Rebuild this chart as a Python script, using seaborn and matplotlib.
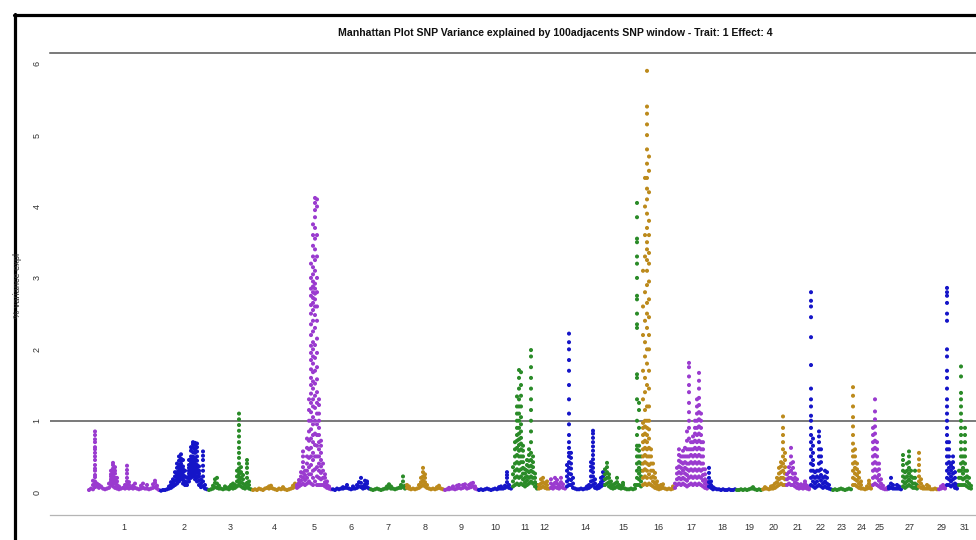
import matplotlib
matplotlib.use("Agg")
import matplotlib.pyplot as plt
from matplotlib.lines import Line2D
import seaborn as sns
import pandas as pd

# ---------------- data ----------------
title = "Manhattan Plot SNP Variance explained by 100adjacents SNP window - Trait: 1 Effect: 4"
ylabel = "% variance expl"
chromosomes = list(range(1, 32))
# relative chromosome lengths (genome units)
chrom_len = [72, 48, 44, 44, 36, 38, 36, 38, 34, 34, 26, 12, 16, 38, 38, 32,
             34, 28, 26, 24, 24, 22, 20, 20, 16, 14, 16, 20, 8, 12, 14]
genome_start = 88
shown_labels = ["1", "2", "3", "4", "5", "6", "7", "8", "9", "10", "11", "12", "",
                "14", "15", "16", "17", "18", "19", "20", "21", "22", "23", "24",
                "25", "", "27", "", "29", "", "31"]
threshold = 1.0
yticks = [0, 1, 2, 3, 4, 5, 6]

# SNP-window values per chromosome, in genome order (a list = several windows at one locus)
chr1 = [0.03, 0.05, [0.04, 0.1, 0.16],
        [0.07, 0.12, 0.15, 0.21, 0.24, 0.3, 0.33, 0.38, 0.45, 0.5, 0.55, 0.6, 0.63, 0.7, 0.74, 0.8, 0.85],
        [0.08, 0.12], [0.06, 0.1], 0.08, 0.05, 0.04, 0.05, [0.06, 0.12],
        [0.1, 0.15, 0.18, 0.22, 0.25, 0.3], [0.08, 0.12, 0.15, 0.2, 0.24, 0.27, 0.31, 0.33, 0.38, 0.41],
        [0.06, 0.12, 0.17, 0.2, 0.26, 0.3, 0.35], [0.05, 0.1, 0.15, 0.2], [0.04, 0.08], 0.05, 0.06,
        [0.05, 0.1], [0.06, 0.1, 0.15, 0.2, 0.26, 0.31, 0.37], [0.05, 0.1, 0.14], 0.06, [0.05, 0.09],
        [0.06, 0.12], 0.05, 0.04, [0.05, 0.09], [0.06, 0.12], 0.05, [0.05, 0.1], 0.04, 0.05,
        [0.06, 0.11], [0.07, 0.13, 0.16], [0.05, 0.09], 0.03]
chr2 = [0.02, 0.03, 0.03, 0.04, [0.05, 0.08], [0.06, 0.1, 0.14], [0.08, 0.13, 0.18],
        [0.1, 0.16, 0.22, 0.28], [0.12, 0.17, 0.2, 0.25, 0.28, 0.34, 0.4],
        [0.15, 0.19, 0.22, 0.27, 0.3, 0.35, 0.38, 0.44, 0.5],
        [0.18, 0.22, 0.25, 0.29, 0.33, 0.37, 0.4, 0.44, 0.47, 0.53],
        [0.12, 0.17, 0.2, 0.24, 0.28, 0.32, 0.36, 0.45], [0.1, 0.15, 0.22, 0.3], [0.1, 0.14, 0.2],
        [0.15, 0.19, 0.22, 0.26, 0.3, 0.34, 0.38, 0.45],
        [0.2, 0.24, 0.28, 0.31, 0.35, 0.39, 0.42, 0.46, 0.5, 0.58, 0.63],
        [0.22, 0.26, 0.3, 0.33, 0.36, 0.4, 0.43, 0.47, 0.5, 0.56, 0.62, 0.67, 0.7],
        [0.18, 0.22, 0.26, 0.3, 0.33, 0.37, 0.4, 0.44, 0.47, 0.55, 0.6, 0.66, 0.69],
        [0.15, 0.2, 0.22, 0.27, 0.3, 0.34, 0.38, 0.44, 0.5, 0.57, 0.63, 0.68],
        [0.1, 0.16, 0.22, 0.26, 0.3, 0.36], [0.07, 0.12, 0.18],
        [0.08, 0.15, 0.22, 0.3, 0.37, 0.45, 0.51, 0.57], [0.05, 0.1], 0.04]
chr3 = [0.03, 0.04, [0.05, 0.09], [0.07, 0.13, 0.18], [0.06, 0.12, 0.2], [0.05, 0.09], 0.05, 0.04,
        [0.05, 0.08], 0.05, [0.04, 0.07], [0.06, 0.1], [0.05, 0.09, 0.12], [0.06, 0.1],
        [0.08, 0.15, 0.22, 0.3],
        [0.1, 0.14, 0.17, 0.21, 0.25, 0.29, 0.33, 0.4, 0.48, 0.55, 0.62, 0.7, 0.78, 0.86, 0.94, 1.02, 1.1],
        [0.08, 0.14, 0.2, 0.28, 0.35], [0.06, 0.12, 0.18, 0.24], [0.05, 0.1],
        [0.07, 0.13, 0.2, 0.27, 0.34, 0.4, 0.45], [0.05, 0.1, 0.15], 0.04]
chr4 = [0.03, 0.04, 0.03, 0.05, 0.04, 0.03, 0.05, 0.06, [0.05, 0.08], [0.06, 0.09], 0.05, 0.04,
        0.03, 0.05, 0.04, [0.05, 0.07], 0.04, 0.03, 0.04, 0.05, [0.06, 0.09], [0.08, 0.12]]
chr5 = [[0.06, 0.1], [0.08, 0.13, 0.17], [0.1, 0.16, 0.22, 0.28],
        [0.12, 0.2, 0.27, 0.35, 0.42, 0.5, 0.57], [0.1, 0.17, 0.24, 0.3],
        [0.12, 0.2, 0.3, 0.4, 0.5, 0.62, 0.75],
        [0.15, 0.25, 0.35, 0.48, 0.6, 0.72, 0.85, 1.0, 1.15, 1.3],
        [0.12, 0.25, 0.38, 0.5, 0.62, 0.75, 0.88, 1.0, 1.12, 1.25, 1.38, 1.5, 1.6, 1.72, 1.85, 1.95,
         2.05, 2.2, 2.35, 2.5, 2.62, 2.75, 2.85, 3.0, 3.2],
        [0.1, 0.2, 0.3, 0.45, 0.55, 0.7, 0.8, 0.95, 1.05, 1.2, 1.3, 1.45, 1.55, 1.68, 1.8, 1.9, 2.0,
         2.1, 2.25, 2.4, 2.55, 2.65, 2.72, 2.8, 2.88, 2.95, 3.05, 3.15, 3.3, 3.45, 3.6, 3.75],
        [0.15, 0.32, 0.5, 0.66, 0.82, 1.0, 1.18, 1.35, 1.52, 1.7, 1.88, 2.06, 2.3, 2.48, 2.6, 2.7,
         2.78, 2.85, 2.92, 3.1, 3.25, 3.4, 3.55, 3.7, 3.85, 3.95, 4.05, 4.12],
        [0.1, 0.22, 0.35, 0.5, 0.65, 0.8, 0.95, 1.1, 1.25, 1.4, 1.58, 1.75, 1.95, 2.15, 2.4, 2.6,
         2.8, 3.0, 3.3, 3.6, 4.0, 4.1],
        [0.1, 0.2, 0.3, 0.4, 0.5, 0.6, 0.7, 0.8, 0.9, 1.0, 1.1, 1.22, 1.3],
        [0.1, 0.18, 0.27, 0.36, 0.45, 0.55, 0.65, 0.72], [0.1, 0.2, 0.3, 0.4],
        [0.08, 0.14, 0.2, 0.25], [0.06, 0.1, 0.15], [0.05, 0.08], 0.04]
chr6 = [0.04, 0.03, 0.05, 0.04, 0.05, [0.05, 0.07], 0.06, [0.06, 0.1], 0.05, 0.04, [0.05, 0.08],
        0.05, [0.06, 0.1], [0.08, 0.14], [0.07, 0.13, 0.2], [0.05, 0.08], [0.06, 0.11, 0.16],
        [0.07, 0.12, 0.15], 0.05]
chr7 = [0.04, 0.03, 0.04, 0.05, 0.04, 0.03, 0.04, 0.05, [0.05, 0.08], [0.07, 0.11], [0.05, 0.08],
        0.05, 0.04, 0.05, 0.06, [0.06, 0.1], [0.08, 0.15, 0.22], [0.05, 0.09]]
chr8 = [[0.06, 0.1], [0.05, 0.08], 0.04, 0.05, 0.04, 0.05, [0.06, 0.1], [0.08, 0.14, 0.2],
        [0.1, 0.16, 0.22, 0.28, 0.34], [0.08, 0.14, 0.2, 0.25], [0.06, 0.1], 0.05, 0.04, 0.05,
        0.04, [0.05, 0.07], [0.06, 0.09], 0.05, 0.04]
chr9 = [0.03, 0.04, [0.04, 0.06], 0.05, [0.05, 0.08], 0.04, [0.05, 0.09], [0.06, 0.1], 0.05,
        [0.06, 0.1], [0.07, 0.11], 0.05, [0.06, 0.1], [0.07, 0.12], [0.08, 0.13], [0.05, 0.08], 0.04]
chr10 = [0.03, 0.04, 0.03, 0.04, 0.05, 0.04, 0.03, 0.04, 0.05, 0.04, [0.05, 0.07], [0.05, 0.08],
         0.05, [0.06, 0.09], [0.08, 0.14, 0.2, 0.24, 0.28], [0.06, 0.1], 0.05]
chr11 = [[0.08, 0.15, 0.25, 0.35], [0.1, 0.2, 0.3, 0.4, 0.5, 0.6, 0.7],
         [0.12, 0.22, 0.32, 0.42, 0.52, 0.62, 0.72, 0.8, 0.9, 1.0, 1.1, 1.2, 1.34],
         [0.1, 0.2, 0.3, 0.4, 0.5, 0.58, 0.66, 0.74, 0.82, 0.9, 1.0, 1.1, 1.2, 1.3, 1.45, 1.6, 1.71],
         [0.12, 0.22, 0.32, 0.42, 0.5, 0.6, 0.68, 0.76, 0.85, 0.95, 1.05, 1.2, 1.35, 1.5, 1.68],
         [0.1, 0.18, 0.26, 0.34, 0.42, 0.5, 0.58, 0.65], [0.08, 0.14, 0.2, 0.26, 0.32],
         [0.1, 0.16, 0.22, 0.3, 0.38, 0.45], [0.12, 0.2, 0.28, 0.36, 0.44, 0.52, 0.6],
         [0.15, 0.22, 0.3, 0.37, 0.45, 0.55, 0.7, 0.85, 1.0, 1.15, 1.3, 1.45, 1.6, 1.75, 1.9, 1.99],
         [0.12, 0.2, 0.28, 0.35, 0.42, 0.5], [0.08, 0.14, 0.2, 0.26], [0.05, 0.1]]
chr12 = [[0.05, 0.1], [0.06, 0.12, 0.18], [0.08, 0.14, 0.2], [0.06, 0.12], [0.05, 0.1, 0.15], 0.05]
chr13 = [[0.06, 0.12, 0.18], [0.05, 0.1], [0.07, 0.13, 0.2], [0.06, 0.12, 0.17], [0.05, 0.1],
         [0.07, 0.14, 0.2], [0.06, 0.11], 0.05]
chr14 = [[0.08, 0.15, 0.22, 0.3, 0.38],
         [0.1, 0.18, 0.26, 0.34, 0.42, 0.5, 0.55, 0.62, 0.7, 0.8, 0.95, 1.1, 1.3, 1.5, 1.7, 1.85, 2.0,
          2.1, 2.22],
         [0.1, 0.17, 0.25, 0.33, 0.4, 0.48, 0.55], [0.06, 0.12, 0.2], 0.05, 0.04, 0.04, 0.05, 0.04,
         0.05, [0.05, 0.08], [0.06, 0.1], [0.08, 0.15, 0.22, 0.3, 0.36, 0.42],
         [0.1, 0.16, 0.22, 0.28, 0.34, 0.4, 0.46, 0.52, 0.58, 0.64, 0.7, 0.76, 0.82, 0.86],
         [0.06, 0.12, 0.18], [0.05, 0.08], [0.06, 0.1], [0.08, 0.14, 0.2], [0.1, 0.16, 0.22, 0.28]]
chr15 = [[0.1, 0.18, 0.25, 0.32], [0.12, 0.2, 0.28, 0.35, 0.41], [0.08, 0.14, 0.2, 0.25],
         [0.06, 0.1, 0.15], [0.05, 0.1], [0.06, 0.12], [0.08, 0.14, 0.2], [0.06, 0.1], [0.05, 0.08],
         [0.06, 0.1, 0.13], 0.05, 0.04, 0.04, 0.05, 0.04, [0.05, 0.1],
         [0.1, 0.2, 0.3, 0.4, 0.5, 0.6, 0.65, 0.8, 1.0, 1.3, 1.6, 1.65, 2.3, 2.35, 2.5, 2.7, 2.75,
          3.0, 3.2, 3.3, 3.5, 3.55, 3.85, 4.05],
         [0.1, 0.18, 0.26, 0.34, 0.42, 0.5, 0.58, 0.65, 0.9, 1.15, 1.25],
         [0.08, 0.15, 0.22, 0.3, 0.4, 0.5]]
chr16 = [[0.1, 0.2, 0.3, 0.4, 0.5, 0.6, 0.7, 0.8, 0.9, 0.97, 1.3, 1.7, 2.2, 2.6, 3.1],
         [0.12, 0.22, 0.32, 0.42, 0.52, 0.62, 0.72, 0.82, 0.92, 1.0, 1.15, 1.4, 1.6, 1.9, 2.1, 2.4,
          2.8, 3.3, 3.6, 4.0, 4.4],
         [0.1, 0.2, 0.3, 0.4, 0.5, 0.6, 0.7, 0.8, 0.9, 1.0, 1.2, 1.5, 1.8, 2.0, 2.3, 2.5, 2.65, 2.9,
          3.1, 3.25, 3.4, 3.5, 3.7, 3.9, 4.1, 4.25, 4.4, 4.6, 4.8, 5.0, 5.15, 5.3, 5.4, 5.9],
         [0.12, 0.25, 0.38, 0.5, 0.62, 0.75, 0.88, 1.0, 1.2, 1.45, 1.7, 2.0, 2.2, 2.45, 2.7, 2.95,
          3.2, 3.35, 3.6, 3.8, 4.2, 4.5, 4.7],
         [0.1, 0.2, 0.3, 0.4, 0.5, 0.6], [0.08, 0.15, 0.22, 0.3, 0.4], [0.06, 0.12, 0.2, 0.27],
         [0.05, 0.1, 0.15], [0.04, 0.08], [0.05, 0.1], [0.06, 0.11], 0.05, 0.04, 0.05, 0.04,
         [0.05, 0.08]]
chr17 = [[0.06, 0.12], [0.1, 0.18, 0.26, 0.34], [0.12, 0.2, 0.28, 0.36, 0.44, 0.52, 0.6],
         [0.1, 0.18, 0.26, 0.34, 0.42, 0.5], [0.12, 0.2, 0.3, 0.4, 0.5, 0.58],
         [0.1, 0.18, 0.26, 0.34, 0.42, 0.5, 0.62], [0.08, 0.16, 0.24, 0.32, 0.4, 0.5, 0.6, 0.72, 0.85],
         [0.1, 0.2, 0.3, 0.4, 0.5, 0.6, 0.75, 0.9, 1.0, 1.12, 1.25, 1.4, 1.5, 1.62, 1.75, 1.81],
         [0.12, 0.22, 0.32, 0.42, 0.52, 0.6, 0.7], [0.1, 0.2, 0.3, 0.4, 0.5, 0.6, 0.7, 0.78],
         [0.12, 0.22, 0.32, 0.42, 0.52, 0.62, 0.72, 0.82, 0.9, 1.0],
         [0.1, 0.2, 0.3, 0.4, 0.5, 0.6, 0.7, 0.8, 0.9, 1.0, 1.1, 1.2, 1.3],
         [0.12, 0.22, 0.32, 0.42, 0.52, 0.62, 0.72, 0.82, 0.92, 1.02, 1.12, 1.22, 1.32, 1.45, 1.56, 1.67],
         [0.1, 0.2, 0.3, 0.4, 0.5, 0.6, 0.7, 0.8, 0.9, 1.0, 1.1],
         [0.08, 0.16, 0.24, 0.32, 0.4, 0.5, 0.6, 0.7], [0.06, 0.12, 0.18, 0.25, 0.32], [0.05, 0.1, 0.15]]
chr18 = [[0.08, 0.14, 0.2, 0.27, 0.34], [0.06, 0.1, 0.15], [0.04, 0.07], 0.05, 0.04, 0.04, 0.03,
         0.04, 0.03, 0.03, 0.04, 0.03, 0.03, 0.04]
chr19 = [0.03, 0.03, 0.04, 0.03, 0.04, 0.03, 0.04, 0.05, [0.05, 0.07], 0.04, 0.03, 0.04, 0.03]
chr20 = [0.04, [0.05, 0.07], 0.05, 0.04, [0.05, 0.08], [0.05, 0.09], [0.06, 0.12], [0.08, 0.14, 0.2],
         [0.1, 0.18, 0.26, 0.34], [0.12, 0.2, 0.28, 0.36, 0.42],
         [0.1, 0.2, 0.3, 0.4, 0.5, 0.6, 0.7, 0.8, 0.9, 1.06], [0.1, 0.18, 0.26, 0.35, 0.45, 0.55]]
chr21 = [[0.1, 0.18, 0.25], [0.12, 0.2, 0.28, 0.35], [0.1, 0.2, 0.3, 0.4, 0.5, 0.62],
         [0.1, 0.18, 0.26, 0.34, 0.42], [0.08, 0.14, 0.2, 0.26], [0.06, 0.12, 0.18], [0.05, 0.1],
         [0.06, 0.11], [0.05, 0.09], [0.06, 0.12, 0.15], [0.05, 0.09], [0.04, 0.07]]
chr22 = [[0.1, 0.2, 0.3, 0.4, 0.5, 0.6, 0.7, 0.8, 0.9, 1.0, 1.07, 1.2, 1.3, 1.45, 1.78, 2.17, 2.45,
          2.6, 2.68, 2.8],
         [0.08, 0.15, 0.22, 0.3, 0.38, 0.45, 0.55, 0.65, 0.75], [0.06, 0.12, 0.2, 0.28],
         [0.08, 0.15, 0.22, 0.3], [0.1, 0.2, 0.3, 0.4, 0.5, 0.6, 0.7, 0.78, 0.85],
         [0.08, 0.16, 0.24, 0.32, 0.42, 0.5, 0.6], [0.06, 0.12, 0.2], [0.08, 0.15, 0.22, 0.3],
         [0.06, 0.12, 0.2, 0.28], [0.05, 0.1], 0.04]
chr23 = [0.03, 0.04, 0.03, 0.04, 0.05, 0.04, 0.03, 0.04, 0.05, 0.04]
chr24 = [[0.1, 0.2, 0.3, 0.4, 0.5, 0.58, 0.68, 0.8, 0.92, 1.05, 1.2, 1.35, 1.47],
         [0.1, 0.18, 0.26, 0.34, 0.42, 0.5, 0.6], [0.08, 0.16, 0.24, 0.32, 0.4],
         [0.06, 0.12, 0.2, 0.28], [0.05, 0.1, 0.15], 0.05, 0.04, [0.05, 0.08], [0.06, 0.12, 0.16],
         [0.05, 0.09]]
chr25 = [[0.1, 0.2, 0.3, 0.4, 0.5, 0.6, 0.7, 0.8, 0.9],
         [0.12, 0.22, 0.32, 0.42, 0.52, 0.62, 0.72, 0.82, 0.92, 1.02, 1.13, 1.3],
         [0.1, 0.2, 0.3, 0.4, 0.5, 0.6, 0.7], [0.08, 0.16, 0.24, 0.32, 0.4], [0.06, 0.12, 0.18],
         [0.05, 0.09], 0.04, [0.04, 0.06]]
chr26 = [[0.05, 0.08], [0.06, 0.12, 0.2], [0.05, 0.1], 0.05, [0.05, 0.1], [0.05, 0.08], 0.04]
chr27 = [[0.08, 0.15, 0.22, 0.3, 0.38, 0.45, 0.52], [0.06, 0.12, 0.2, 0.28],
         [0.08, 0.15, 0.22, 0.3, 0.4], [0.1, 0.18, 0.26, 0.34, 0.42, 0.5, 0.57],
         [0.08, 0.15, 0.22, 0.3], [0.06, 0.12, 0.2], [0.06, 0.12, 0.2, 0.3], [0.05, 0.1]]
chr28 = [[0.08, 0.15, 0.22, 0.3, 0.38, 0.46, 0.55], [0.06, 0.12, 0.18], [0.05, 0.08], 0.05,
         [0.05, 0.1], [0.05, 0.08], 0.04, 0.04, 0.05, 0.04]
chr29 = [0.04, [0.05, 0.08], [0.06, 0.1], [0.05, 0.08]]
chr30 = [[0.1, 0.2, 0.3, 0.4, 0.5, 0.6, 0.7, 0.8, 0.9, 1.0, 1.1, 1.2, 1.3, 1.45, 1.6, 1.7, 1.9, 2.0,
          2.4, 2.5, 2.65, 2.75, 2.8, 2.86],
         [0.1, 0.18, 0.26, 0.34, 0.42, 0.5, 0.6, 0.7], [0.08, 0.15, 0.22, 0.3, 0.38],
         [0.1, 0.18, 0.26, 0.34, 0.42, 0.5], [0.06, 0.12, 0.2, 0.28], [0.05, 0.1]]
chr31 = [[0.1, 0.2, 0.3],
         [0.1, 0.2, 0.3, 0.4, 0.5, 0.6, 0.7, 0.8, 0.9, 1.0, 1.1, 1.2, 1.3, 1.39, 1.62, 1.76],
         [0.1, 0.18, 0.26, 0.34, 0.42, 0.5], [0.1, 0.2, 0.3, 0.4, 0.5, 0.6, 0.7, 0.8, 0.9],
         [0.08, 0.15, 0.22, 0.3], [0.06, 0.12, 0.2], [0.05, 0.09]]

chrom_values = [chr1, chr2, chr3, chr4, chr5, chr6, chr7, chr8, chr9, chr10, chr11, chr12, chr13,
                chr14, chr15, chr16, chr17, chr18, chr19, chr20, chr21, chr22, chr23, chr24, chr25,
                chr26, chr27, chr28, chr29, chr30, chr31]

palette = {"g0": "#9A3BCF", "g1": "#1515C8", "g2": "#2A8B28", "g3": "#BC8A1C"}

# ---------------- build table ----------------
rows = []
mids = []
offset = genome_start
for chrom, L, cols in zip(chromosomes, chrom_len, chrom_values):
    n = len(cols)
    for k, col in enumerate(cols):
        vals = col if isinstance(col, list) else [col]
        pos = offset + (k + 0.5) * L / n
        for v in vals:
            rows.append({"chrom": chrom, "pos": pos, "val": v, "grp": f"g{(chrom - 1) % 4}"})
    mids.append(offset + L / 2)
    offset += L
df = pd.DataFrame(rows)

# ---------------- figure ----------------
sns.set_style("white")
plt.rcParams["font.family"] = ["Liberation Sans", "DejaVu Sans"]

W, H = 976, 540
fig = plt.figure(figsize=(W / 100, H / 100), dpi=100)
ax = fig.add_axes([50 / W, (H - 515) / H, 1 - 50 / W, (515 - 53) / H])

sns.scatterplot(data=df, x="pos", y="val", hue="grp", palette=palette, s=8.5,
                linewidth=0, legend=False, ax=ax, zorder=3)

ax.set_xlim(50, 976)
ax.set_ylim(-0.32, 6.15)
ax.axhline(threshold, color="#555555", lw=1.1, zorder=2)

for side in ["left", "right"]:
    ax.spines[side].set_visible(False)
ax.spines["top"].set_color("#555555")
ax.spines["top"].set_linewidth(1.1)
ax.spines["bottom"].set_color("#b5b5b5")
ax.spines["bottom"].set_linewidth(0.9)

ax.set_xticks(mids)
ax.set_xticklabels(shown_labels)
ax.set_yticks(yticks)
ax.set_yticklabels([str(t) for t in yticks])
ax.tick_params(axis="x", length=3.5, width=0.7, color="#bbbbbb", pad=2,
               labelsize=6.5, labelcolor="#333333")
ax.tick_params(axis="y", length=3, width=0.6, color="#dddddd", pad=3,
               labelsize=6.5, labelcolor="#333333")
for lab in ax.get_yticklabels():
    lab.set_rotation(90)
    lab.set_va("center")
    lab.set_ha("right")
ax.set_xlabel("")
ax.set_ylabel("")

fig.text(555 / W, 1 - 33 / H, title, ha="center", va="center", fontsize=7.6,
         fontweight="bold", color="#111111")
fig.text(18 / W, 1 - 285 / H, ylabel, rotation=90, ha="center", va="center",
         fontsize=6.6, color="#333333")

# outer black frame (top and left edges visible)
fig.add_artist(Line2D([13.5 / W, 1.0], [1 - 14.5 / H, 1 - 14.5 / H], color="black", lw=2.3,
                      transform=fig.transFigure))
fig.add_artist(Line2D([14.5 / W, 14.5 / W], [0, 1 - 13.5 / H], color="black", lw=2.3,
                      transform=fig.transFigure))

fig.savefig("out.png", dpi=100, facecolor="white")
